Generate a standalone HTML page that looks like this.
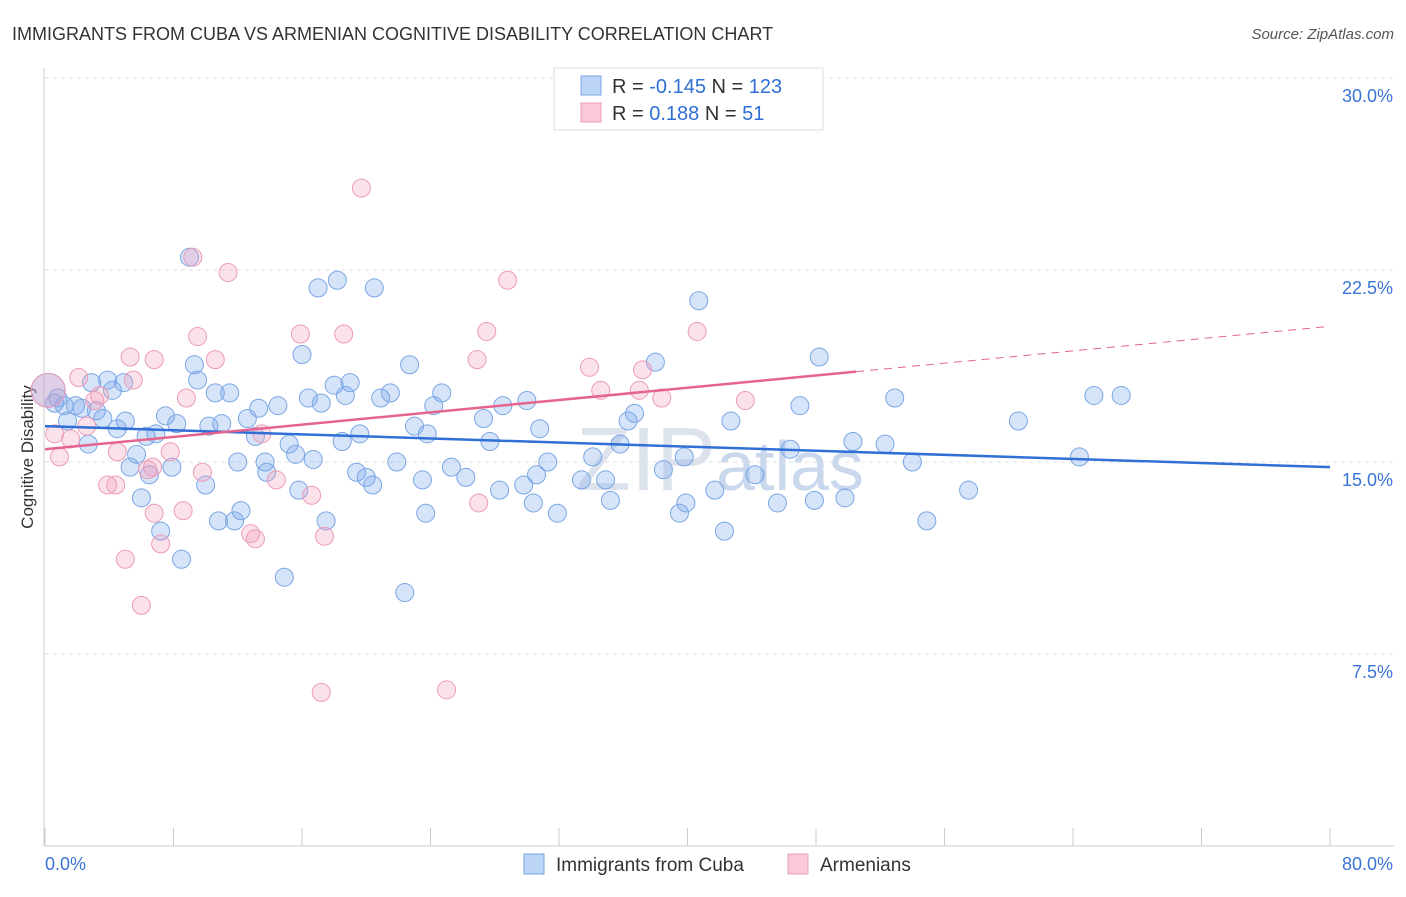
<!DOCTYPE html>
<html><head><meta charset="utf-8"><style>
body{margin:0;background:#fff;font-family:"Liberation Sans",sans-serif;}
svg text{font-family:"Liberation Sans",sans-serif;}
</style></head><body>
<svg width="1406" height="892" id="chart">
<text x="12" y="40" font-size="18" fill="#333">IMMIGRANTS FROM CUBA VS ARMENIAN COGNITIVE DISABILITY CORRELATION CHART</text>
<text x="1394" y="39" font-size="15" fill="#555" text-anchor="end" font-style="italic">Source: ZipAtlas.com</text>
<text x="33" y="457" font-size="17" fill="#333" text-anchor="middle" transform="rotate(-90 33 457)">Cognitive Disability</text>
<text x="720" y="490" font-size="90" fill="#dde3ec" text-anchor="middle" font-family="Liberation Serif">ZIP<tspan font-family="Liberation Sans" font-size="70" fill="#c9d8ec">atlas</tspan></text>
<g id="grid"></g><g id="axes"></g><g id="pts"></g><g id="lines"></g>
<g>
<rect x="554" y="68" width="269" height="62" fill="#fff" stroke="#ddd"/>
<rect x="581" y="76" width="20" height="19" fill="#bcd4f6" stroke="#7aa6e4"/>
<rect x="581" y="103" width="20" height="19" fill="#f9c9d8" stroke="#ec9cb8"/>
<text x="612" y="93" font-size="20" fill="#333">R = <tspan fill="#2f6fd6">-0.145</tspan>   N = <tspan fill="#2f6fd6">123</tspan></text>
<text x="612" y="120" font-size="20" fill="#333">R =   <tspan fill="#2f6fd6">0.188</tspan>   N =   <tspan fill="#2f6fd6">51</tspan></text>
</g>
<g>
<rect x="524" y="854" width="20" height="20" fill="#bcd4f6" stroke="#7aa6e4"/>
<text x="556" y="871" font-size="19" fill="#333">Immigrants from Cuba</text>
<rect x="788" y="854" width="20" height="20" fill="#f9c9d8" stroke="#ec9cb8"/>
<text x="820" y="871" font-size="19" fill="#333">Armenians</text>
</g>
</svg>
<script>
const blueX=[0.2,0.6,0.8,1.2,1.4,1.9,2.3,2.7,2.9,3.2,3.6,3.9,4.2,4.5,4.9,5.0,5.3,5.7,6.0,6.3,6.5,6.9,7.2,7.5,7.9,8.2,8.5,9.0,9.3,9.5,10.0,10.2,10.6,10.8,11.0,11.5,11.8,12.0,12.2,12.6,13.1,13.3,13.7,13.8,14.5,14.9,15.2,15.6,15.8,16.0,16.4,16.7,17.0,17.2,17.5,18.0,18.2,18.5,18.7,19.0,19.4,19.6,20.0,20.4,20.5,20.9,21.5,21.9,22.4,22.7,23.0,23.5,23.7,23.8,24.2,24.7,25.3,26.2,27.3,27.7,28.3,28.5,29.8,30.0,30.4,30.6,30.8,31.3,31.9,33.4,34.1,34.9,35.2,35.8,36.3,36.7,38.0,38.5,39.5,39.9,39.8,40.7,41.7,42.3,42.7,44.2,45.6,46.4,47.0,47.9,48.2,49.8,50.3,52.3,52.9,54.0,54.9,57.5,60.6,64.4,65.3,67.0];
const blueY=[17.8,17.3,17.5,17.2,16.6,17.2,17.1,15.7,18.1,17.0,16.7,18.2,17.8,16.3,18.1,16.6,14.8,15.3,13.6,16.0,14.5,16.1,12.3,16.8,14.8,16.5,11.2,23.0,18.8,18.2,14.1,16.4,17.7,12.7,16.5,17.7,12.7,15.0,13.1,16.7,16.0,17.1,15.0,14.6,17.2,10.5,15.7,15.3,13.9,19.2,17.5,15.1,21.8,17.3,12.7,18.0,22.1,15.8,17.6,18.1,14.6,16.1,14.4,14.1,21.8,17.5,17.7,15.0,9.9,18.8,16.4,14.3,13.0,16.1,17.2,17.7,14.8,14.4,16.7,15.8,13.9,17.2,14.1,17.4,13.4,14.5,16.3,15.0,13.0,14.3,15.2,14.3,13.5,15.7,16.6,16.9,18.9,14.7,13.0,13.4,15.2,21.3,13.9,12.3,16.6,14.5,13.4,15.5,17.2,13.5,19.1,13.6,15.8,15.7,17.5,15.0,12.7,13.9,16.6,15.2,17.6,17.6];
const pinkX=[0.2,0.6,0.9,1.6,2.1,2.6,3.1,3.4,3.9,4.4,4.5,5.0,5.3,5.5,6.0,6.4,6.7,6.8,6.8,7.2,7.8,8.6,8.8,9.2,9.5,9.8,10.6,11.4,12.8,13.1,13.5,14.4,15.9,16.6,17.2,17.4,18.6,19.7,25.0,26.9,27.0,27.5,28.8,33.9,34.6,37.0,37.2,38.4,40.6,43.6];
const pinkY=[17.8,16.1,15.2,15.9,18.3,16.4,17.4,17.6,14.1,14.1,15.4,11.2,19.1,18.2,9.4,14.7,14.8,13.0,19.0,11.8,15.4,13.1,17.5,23.0,19.9,14.6,19.0,22.4,12.2,12.0,16.1,14.3,20.0,13.7,6.0,12.1,20.0,25.7,6.1,19.0,13.4,20.1,22.1,18.7,17.8,17.8,18.6,17.5,20.1,17.4];
const blueTrend=[16.4,14.8];
const pinkTrend=[15.5,20.3];
const yTicks=[7.5,15,22.5,30];
const xTickVals=[0,8,16,24,32,40,48,56,64,72,80];
const sx=v=>45+v/80*1285;
const sy=v=>846-v/7.5*192;
const NS="http://www.w3.org/2000/svg";
function mk(tag,attrs,parent){const e=document.createElementNS(NS,tag);for(const k in attrs)e.setAttribute(k,attrs[k]);document.getElementById(parent).appendChild(e);return e;}
yTicks.forEach(t=>{
 const l=mk('line',{x1:45,x2:1394,y1:sy(t),y2:sy(t),stroke:'#dde0e6','stroke-dasharray':'4,4'},'grid');
 
 
 const tx=mk('text',{x:1393,y:sy(t)+24,'font-size':18,fill:'#3a74d6','text-anchor':'end'},'grid');
 tx.textContent=t.toFixed(1)+'%';
 
 
});
const ax=mk('line',{x1:44,x2:44,y1:68,y2:846,stroke:'#ccc'},'axes');


const bx=mk('line',{x1:44,x2:1394,y1:846,y2:846,stroke:'#ccc'},'axes');


xTickVals.forEach(v=>{
 const t=mk('line',{x1:sx(v),x2:sx(v),y1:828,y2:846,stroke:'#ccc'},'axes');
 
 
});
[[0,'start',45],[80,'end',1393]].forEach(([v,a,x])=>{
 const t=mk('text',{x:x,y:870,'font-size':18,fill:'#3a74d6','text-anchor':a},'axes');
 t.textContent=v.toFixed(1)+'%';
 
 
});
function pts(X,Y,fill,stroke,name){X.forEach((x,i)=>{
 const c=mk('circle',{cx:sx(x),cy:sy(Y[i]),r:i==0?17:9,fill:fill,stroke:stroke,'stroke-width':1},'pts');
 
 
});}
pts(blueX,blueY,'rgba(120,165,235,0.3)','#7aa6e4','cuba-point');
pts(pinkX,pinkY,'rgba(242,155,185,0.3)','#ec9cb8','armenian-point');
const bl=mk('line',{x1:sx(0),y1:sy(blueTrend[0]),x2:sx(80),y2:sy(blueTrend[1]),stroke:'#2f6fd6','stroke-width':2.5},'lines');


const pm=v=>pinkTrend[0]+(pinkTrend[1]-pinkTrend[0])*v/80;
const pl=mk('line',{x1:sx(0),y1:sy(pm(0)),x2:sx(50.5),y2:sy(pm(50.5)),stroke:'#e4648e','stroke-width':2.5},'lines');


const pd=mk('line',{x1:sx(50.5),y1:sy(pm(50.5)),x2:sx(80),y2:sy(pm(80)),stroke:'#e4648e','stroke-width':1,'stroke-dasharray':'8,6'},'lines');


</script>
</body></html>
